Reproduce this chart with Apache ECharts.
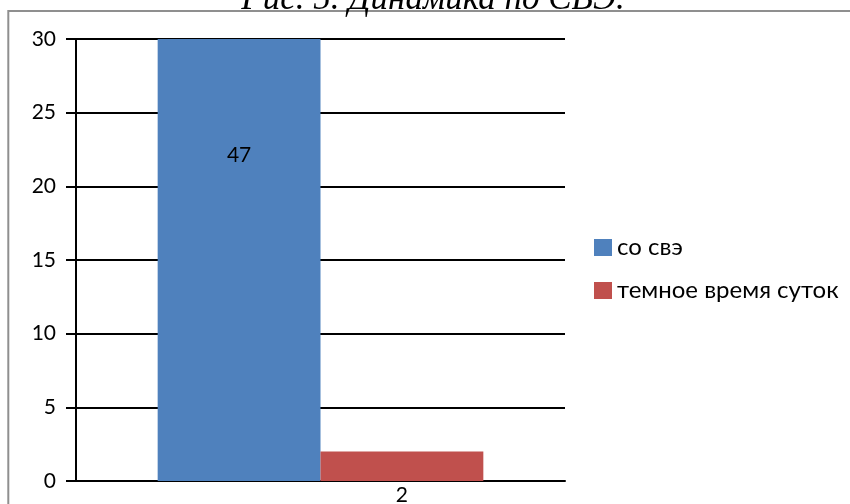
<!DOCTYPE html>
<html><head><meta charset="utf-8">
<script src="https://cdn.jsdelivr.net/npm/echarts@6/dist/echarts.min.js"></script>
<style>html,body{margin:0;padding:0;background:#fff}#c{width:850px;height:504px}</style>
</head><body><div id="c"></div>
<script>
const titleText = 'Рис. 5. Динамика по СВЭ.';
const categories = [''];
const seriesNames = ['со свэ', 'темное время суток'];
const blueValues = [47];
const redValues = [2];
const yTicks = { min: 0, max: 30, interval: 5 };

const chart = echarts.init(document.getElementById('c'), null, { renderer: 'canvas' });
const font = 'Lato';
chart.setOption({
  animation: false,
  graphic: [
    { type: 'rect', shape: { x: 8.3, y: 11, width: 850, height: 500 }, style: { fill: 'none', stroke: '#8f8f8f', lineWidth: 2 }, z: -1 },
    { type: 'text', x: 433, y: -0.5, style: { text: titleText, font: 'italic 35px "Liberation Serif"', fill: '#000', align: 'center', verticalAlign: 'middle' } }
  ],
  grid: { left: 76, right: 285, top: 39, bottom: 23 },
  legend: {
    orient: 'vertical', left: 589, top: 230.5, itemWidth: 18, itemHeight: 17, itemGap: 19,
    icon: 'rect',
    textStyle: { fontFamily: font, fontSize: 24, lineHeight: 24, color: '#000', padding: [0, 0, 0, 0] },
    data: seriesNames
  },
  xAxis: {
    type: 'category', data: categories,
    axisLine: { lineStyle: { color: '#000', width: 2 } },
    axisTick: { show: false }, axisLabel: { show: false }
  },
  yAxis: {
    type: 'value', min: yTicks.min, max: yTicks.max, interval: yTicks.interval,
    axisLine: { show: true, lineStyle: { color: '#000', width: 2 } },
    axisTick: { show: true, length: 10, lineStyle: { color: '#000', width: 2 } },
    axisLabel: { fontFamily: font, fontSize: 21, color: '#000', margin: 20 },
    splitLine: { lineStyle: { color: '#000', width: 2 } }
  },
  series: [
    { name: seriesNames[0], type: 'bar', data: blueValues, barWidth: '33.3%', barGap: '0%', itemStyle: { color: '#4F81BD' },
      label: { show: true, position: ['50%', 116], align: 'center', verticalAlign: 'middle', fontFamily: font, fontSize: 21, color: '#000' } },
    { name: seriesNames[1], type: 'bar', data: redValues, barWidth: '33.3%', barGap: '0%', itemStyle: { color: '#C0504D' },
      label: { show: true, position: 'bottom', distance: 4, fontFamily: font, fontSize: 21, color: '#000' } }
  ]
});
</script></body></html>
